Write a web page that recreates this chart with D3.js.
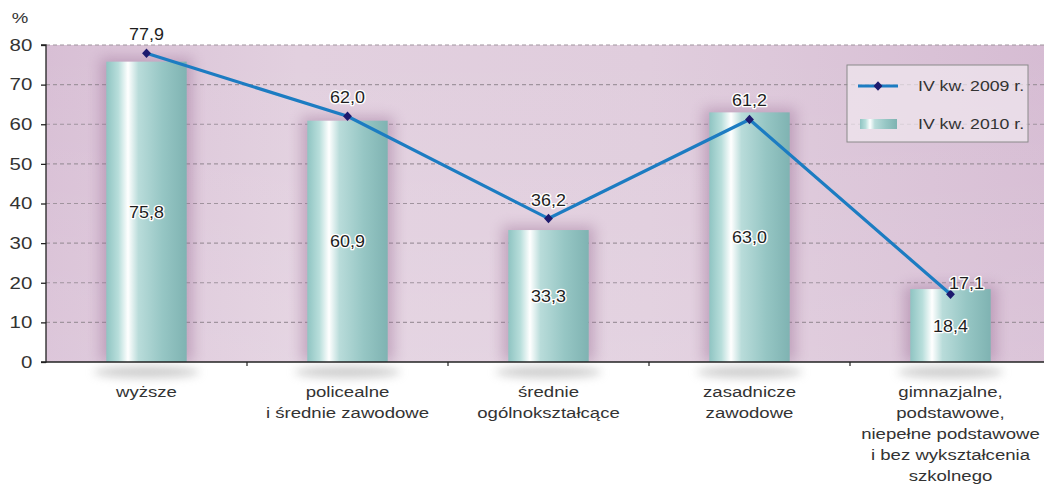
<!DOCTYPE html>
<html><head><meta charset="utf-8">
<script src="https://cdn.jsdelivr.net/npm/d3@7"></script>
<style>body{margin:0;background:#fff;}svg{display:block;font-family:"Liberation Sans",Arial,sans-serif;}</style>
</head><body>
<svg id="c" width="1044" height="489"></svg>
<script>
const categories = [
  ["wyższe"],
  ["policealne", "i średnie zawodowe"],
  ["średnie", "ogólnokształcące"],
  ["zasadnicze", "zawodowe"],
  ["gimnazjalne,", "podstawowe,", "niepełne podstawowe", "i bez wykształcenia", "szkolnego"]
];
const values2009 = [77.9, 62.0, 36.2, 61.2, 17.1];
const values2010 = [75.8, 60.9, 33.3, 63.0, 18.4];
const yTicks = [0, 10, 20, 30, 40, 50, 60, 70, 80];
const seriesNames = ["IV kw. 2009 r.", "IV kw. 2010 r."];

const SX = 1.24; // horizontal stretch of the original typography
const fmt = v => d3.format(".1f")(v).replace(".", ",");
const svg = d3.select("#c");
const L = 46, R = 1051, T = 45, B = 362;
const x = d3.scaleBand().domain(d3.range(categories.length)).range([L, R]).paddingInner(0.6).paddingOuter(0.3);
const xb = d3.scaleBand().domain(d3.range(categories.length)).range([L, R]);
const y = d3.scaleLinear().domain([0, 80]).range([B, T]);

const defs = svg.append("defs");
const bg = defs.append("linearGradient").attr("id", "bg");
[[0,"#d8bfd5"],[0.25,"#e2d0df"],[0.6,"#e0cddd"],[1,"#d6bcd3"]].forEach(s=>bg.append("stop").attr("offset",s[0]).attr("stop-color",s[1]));
const bgv = defs.append("linearGradient").attr("id","bgv").attr("x2",0).attr("y2",1);
bgv.append("stop").attr("offset",0).attr("stop-color","#fff").attr("stop-opacity",0.0);
bgv.append("stop").attr("offset",1).attr("stop-color","#fff").attr("stop-opacity",0.12);
const bar = defs.append("linearGradient").attr("id", "bar");
[[0,"#8fc4c2"],[0.15,"#b8dedb"],[0.27,"#ffffff"],[0.4,"#b9dcda"],[0.7,"#96c6c4"],[1,"#7fb3b2"]].forEach(s=>bar.append("stop").attr("offset",s[0]).attr("stop-color",s[1]));
const sh = defs.append("filter").attr("id","sh").attr("x","-50%").attr("y","-20%").attr("width","200%").attr("height","140%");
sh.append("feGaussianBlur").attr("stdDeviation",7);
const blur = defs.append("filter").attr("id","blur").attr("x","-50%").attr("y","-200%").attr("width","200%").attr("height","500%");
blur.append("feGaussianBlur").attr("stdDeviation",5);
const clip = defs.append("clipPath").attr("id","clip");
clip.append("rect").attr("x",L).attr("y",T).attr("width",R-L).attr("height",B-T);

// background
svg.append("rect").attr("x",L).attr("y",T).attr("width",R-L).attr("height",B-T).attr("fill","url(#bg)");
svg.append("rect").attr("x",L).attr("y",T).attr("width",R-L).attr("height",B-T).attr("fill","url(#bgv)");

// grid
svg.append("g").selectAll("line").data(yTicks.filter(d=>d>0)).join("line")
  .attr("x1",L).attr("x2",R).attr("y1",d=>y(d)).attr("y2",d=>y(d))
  .attr("stroke","#a0949e").attr("stroke-width",1.2).attr("stroke-dasharray","4,3");

// bars
const g = svg.append("g");
g.append("g").attr("clip-path","url(#clip)").selectAll("rect").data(values2010).join("rect")
  .attr("x",(d,i)=>x(i)-6).attr("width",x.bandwidth()+12)
  .attr("y",d=>y(d)-4).attr("height",d=>B-y(d)+4)
  .attr("fill","#9a6e95").attr("opacity",0.45).attr("filter","url(#sh)");
g.selectAll("ellipse").data(values2010).join("ellipse")
  .attr("cx",(d,i)=>x(i)+x.bandwidth()/2).attr("cy",B+10).attr("rx",x.bandwidth()*0.66).attr("ry",6)
  .attr("fill","#9c9c9c").attr("opacity",0.5).attr("filter","url(#blur)");
g.selectAll("rect.b").data(values2010).join("rect").attr("class","b")
  .attr("x",(d,i)=>x(i)).attr("width",x.bandwidth())
  .attr("y",d=>y(d)).attr("height",d=>B-y(d)).attr("fill","url(#bar)");

// axes
const ya = svg.append("g").attr("transform",`translate(${L},0)`)
  .call(d3.axisLeft(y).tickValues(yTicks).tickSize(5).tickPadding(6));
ya.select(".domain").attr("stroke","#222").attr("stroke-width",1.3).attr("d",`M-5,${T}H0V${B}H-5`);
ya.selectAll(".tick line").attr("stroke","#222").attr("stroke-width",1.3);
ya.selectAll("text").attr("font-size",16.5).attr("fill","#333").attr("font-family","Liberation Sans, Arial")
  .attr("transform",`scale(${SX},1)`);
svg.append("text").attr("transform",`translate(20,23) scale(${SX},1)`).attr("text-anchor","middle")
  .attr("font-size",15).attr("fill","#333").text("%");

svg.append("line").attr("x1",L).attr("x2",1044).attr("y1",B).attr("y2",B).attr("stroke","#222").attr("stroke-width",1.3);
svg.append("g").selectAll("line").data(d3.range(1,categories.length)).join("line")
  .attr("x1",i=>xb(i)).attr("x2",i=>xb(i)).attr("y1",B).attr("y2",B+4).attr("stroke","#222").attr("stroke-width",1.2);

// x labels
const xl = svg.append("g").selectAll("text").data(categories).join("text")
  .attr("text-anchor","middle").attr("font-size",15).attr("fill","#333")
  .attr("transform",(d,i)=>`translate(${xb(i)+xb.bandwidth()/2},397) scale(${SX},1)`);
xl.selectAll("tspan").data(d=>d).join("tspan").attr("x",0).attr("dy",(d,j)=>j?21:0).text(d=>d);

// line
const cx = i => x(i)+x.bandwidth()/2;
svg.append("path").datum(values2009)
  .attr("d",d3.line().x((d,i)=>cx(i)).y(d=>y(d)))
  .attr("fill","none").attr("stroke","#1c7cc2").attr("stroke-width",3.2);
svg.append("g").selectAll("path").data(values2009).join("path")
  .attr("d",d3.symbol(d3.symbolDiamond,40))
  .attr("transform",(d,i)=>`translate(${cx(i)},${y(d)}) scale(1.3,0.8)`)
  .attr("fill","#1d1a6e");

// labels
function lab(sel){
  sel.attr("text-anchor","middle").attr("font-size",16)
    .attr("fill","#1e1e1e").attr("stroke","#fff").attr("stroke-width",2.6).attr("paint-order","stroke").attr("stroke-linejoin","round");
}
const last = values2009.length-1;
svg.append("g").selectAll("text").data(values2010).join("text")
  .attr("transform",(d,i)=>`translate(${cx(i)},${(y(d)+B)/2+6}) scale(1.12,1)`).text(fmt).call(lab);
svg.append("g").selectAll("text").data(values2009).join("text")
  .attr("transform",(d,i)=>`translate(${cx(i)+(i===last?16:0)},${y(d)-(i===last?5:13)}) scale(1.12,1)`).text(fmt).call(lab);

// legend
const lg = svg.append("g");
lg.append("rect").attr("x",847).attr("y",65).attr("width",181).attr("height",77)
  .attr("fill","#f1e8ef").attr("fill-opacity",0.7).attr("stroke","#8a8a8a").attr("stroke-width",1);
lg.append("line").attr("x1",858).attr("x2",898).attr("y1",86).attr("y2",86).attr("stroke","#1c7cc2").attr("stroke-width",3.2);
lg.append("path").attr("d",d3.symbol(d3.symbolDiamond,40)).attr("transform","translate(878,86) scale(1.3,0.8)").attr("fill","#1d1a6e");
lg.append("rect").attr("x",860).attr("y",119).attr("width",37).attr("height",10).attr("fill","url(#bar)");
lg.selectAll("text").data(seriesNames).join("text")
  .attr("transform",(d,i)=>`translate(918,${91+i*38}) scale(1.18,1)`)
  .attr("font-size",15).attr("fill","#333").text(d=>d);
</script>
</body></html>
